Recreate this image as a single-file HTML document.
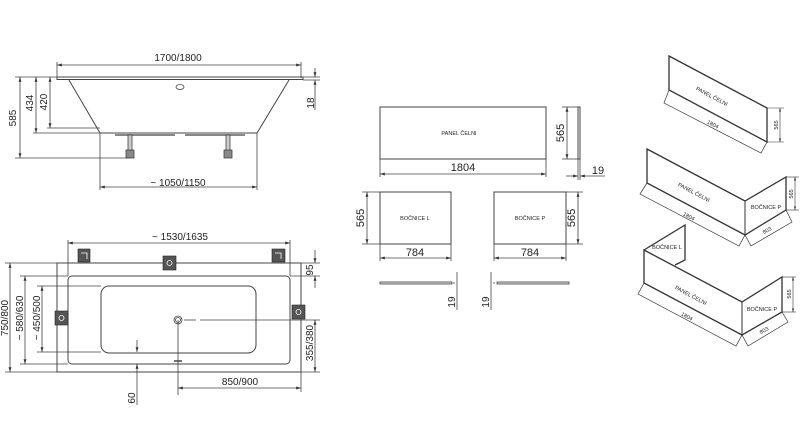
<!DOCTYPE html>
<html><head><meta charset="utf-8"><style>
html,body{margin:0;padding:0;background:#fff;}
svg{display:block;font-family:"Liberation Sans",sans-serif;}
</style></head><body>
<svg width="800" height="442" viewBox="0 0 800 442" xmlns="http://www.w3.org/2000/svg">
<defs>
<marker id="a" viewBox="0 0 10 10" refX="10" refY="5" markerWidth="6" markerHeight="6" orient="auto-start-reverse"><path d="M0,2 L10,5 L0,8 z" fill="#333"/></marker>
</defs>
<g stroke="#444" stroke-width="0.8" fill="none">
<!-- side view -->
<line x1="57" y1="65" x2="301" y2="65" marker-start="url(#a)" marker-end="url(#a)"/>
<line x1="57" y1="62" x2="57" y2="78"/><line x1="301" y1="62" x2="301" y2="78"/>
<rect x="57" y="77" width="246" height="2.5" stroke-width="1"/>
<path d="M69,80 L100,133 L257,133 L289,80" stroke-width="1"/>
<ellipse cx="180" cy="87" rx="4" ry="2.5"/>
<path d="M115,135 h60 M185,135 h60" stroke="#888" stroke-width="2"/>
<rect x="128" y="135" width="4" height="18" fill="#ccc"/><rect x="126" y="150" width="8" height="8" fill="#888"/>
<rect x="226" y="135" width="4" height="18" fill="#ccc"/><rect x="224" y="150" width="8" height="8" fill="#888"/>
<line x1="15" y1="77" x2="57" y2="77"/><line x1="33" y1="133" x2="100" y2="133"/><line x1="15" y1="158" x2="130" y2="158"/><line x1="47" y1="128" x2="100" y2="128"/>
<line x1="20" y1="77" x2="20" y2="158" marker-start="url(#a)" marker-end="url(#a)"/>
<line x1="36" y1="77" x2="36" y2="133" marker-start="url(#a)" marker-end="url(#a)"/>
<line x1="50" y1="77" x2="50" y2="128" marker-start="url(#a)" marker-end="url(#a)"/>
<line x1="303" y1="77" x2="320" y2="77"/><line x1="303" y1="80" x2="320" y2="80"/>
<line x1="315" y1="68" x2="315" y2="77" marker-end="url(#a)"/><line x1="315" y1="110" x2="315" y2="80" marker-end="url(#a)"/>
<line x1="100" y1="133" x2="100" y2="190"/><line x1="257" y1="133" x2="257" y2="190"/>
<line x1="100" y1="187" x2="257" y2="187" marker-start="url(#a)" marker-end="url(#a)"/>
<!-- plan view -->
<line x1="68" y1="243" x2="290" y2="243" marker-start="url(#a)" marker-end="url(#a)"/>
<line x1="68" y1="240" x2="68" y2="276"/><line x1="290" y1="240" x2="290" y2="276"/>
<rect x="57" y="263" width="244" height="109" stroke-width="1"/>
<rect x="68" y="276" width="222" height="88" rx="4" stroke-width="1"/>
<rect x="101" y="286" width="155" height="67" rx="8" stroke-width="1"/>
<circle cx="178" cy="320" r="4"/><circle cx="178" cy="320" r="2.5"/>
<line x1="184" y1="320" x2="196" y2="320"/><line x1="200" y1="320" x2="320" y2="320"/>
<line x1="178" y1="320" x2="178" y2="395"/>
<line x1="5" y1="263" x2="57" y2="263"/><line x1="5" y1="372" x2="57" y2="372"/>
<line x1="20" y1="276" x2="68" y2="276"/><line x1="20" y1="364" x2="68" y2="364"/>
<line x1="37" y1="286" x2="101" y2="286"/><line x1="37" y1="352" x2="101" y2="352"/>
<line x1="10" y1="263" x2="10" y2="372" marker-start="url(#a)" marker-end="url(#a)"/>
<line x1="25" y1="276" x2="25" y2="364" marker-start="url(#a)" marker-end="url(#a)"/>
<line x1="42" y1="286" x2="42" y2="352" marker-start="url(#a)" marker-end="url(#a)"/>
<line x1="301" y1="263" x2="320" y2="263"/><line x1="290" y1="276" x2="320" y2="276"/><line x1="301" y1="372" x2="320" y2="372"/>
<line x1="315" y1="250" x2="315" y2="263" marker-end="url(#a)"/><line x1="315" y1="288" x2="315" y2="276" marker-end="url(#a)"/>
<line x1="315" y1="320" x2="315" y2="372" marker-start="url(#a)" marker-end="url(#a)"/>
<line x1="178" y1="388" x2="301" y2="388" marker-start="url(#a)" marker-end="url(#a)"/>
<line x1="301" y1="372" x2="301" y2="392"/>
<line x1="137" y1="340" x2="137" y2="352" marker-end="url(#a)"/><line x1="137" y1="405" x2="137" y2="364" marker-end="url(#a)"/>
<line x1="174" y1="361" x2="182" y2="361" stroke-width="1.5"/>
</g>
<g fill="#555" stroke="#222" stroke-width="0.6">
<rect x="78" y="249" width="12" height="13"/><rect x="163" y="256" width="13" height="14"/><rect x="272" y="249" width="13" height="13"/>
<rect x="55" y="311" width="13" height="14"/><rect x="292" y="305" width="13" height="14"/>
</g>
<g stroke="#fff" stroke-width="0.8" fill="none">
<circle cx="169.5" cy="263" r="2.5"/><circle cx="61.5" cy="318" r="2.5"/><circle cx="298.5" cy="312" r="2.5"/>
<path d="M81,253 h6 v6 M275,253 h6 v6"/>
</g>
<!-- panels flat -->
<g stroke="#444" stroke-width="0.8" fill="none">
<rect x="380" y="107" width="166" height="52" stroke-width="1"/>
<line x1="380" y1="159" x2="380" y2="177"/><line x1="546" y1="159" x2="546" y2="177"/>
<line x1="380" y1="174" x2="546" y2="174" marker-start="url(#a)" marker-end="url(#a)"/>
<rect x="578" y="107" width="2" height="52" stroke-width="1"/>
<line x1="562" y1="107" x2="578" y2="107"/><line x1="562" y1="159" x2="578" y2="159"/>
<line x1="567" y1="107" x2="567" y2="159" marker-start="url(#a)" marker-end="url(#a)"/>
<line x1="578" y1="159" x2="578" y2="180"/><line x1="580" y1="159" x2="580" y2="180"/>
<line x1="566" y1="176" x2="578" y2="176" marker-end="url(#a)"/><line x1="605" y1="176" x2="580" y2="176" marker-end="url(#a)"/>
<rect x="380" y="192" width="71" height="52" stroke-width="1"/>
<line x1="362" y1="192" x2="380" y2="192"/><line x1="362" y1="244" x2="380" y2="244"/>
<line x1="367" y1="192" x2="367" y2="244" marker-start="url(#a)" marker-end="url(#a)"/>
<line x1="380" y1="244" x2="380" y2="261"/><line x1="451" y1="244" x2="451" y2="261"/>
<line x1="380" y1="258" x2="451" y2="258" marker-start="url(#a)" marker-end="url(#a)"/>
<rect x="494" y="192" width="72" height="52" stroke-width="1"/>
<line x1="566" y1="192" x2="583" y2="192"/><line x1="566" y1="244" x2="583" y2="244"/>
<line x1="578" y1="192" x2="578" y2="244" marker-start="url(#a)" marker-end="url(#a)"/>
<line x1="494" y1="244" x2="494" y2="261"/><line x1="566" y1="244" x2="566" y2="261"/>
<line x1="494" y1="258" x2="566" y2="258" marker-start="url(#a)" marker-end="url(#a)"/>
<rect x="380" y="282" width="72" height="2" fill="#ddd"/>
<rect x="497" y="282" width="72" height="2" fill="#ddd"/>
<line x1="457" y1="272" x2="457" y2="310"/><line x1="454" y1="282" x2="454" y2="284"/>
<line x1="491" y1="272" x2="491" y2="310"/><line x1="494" y1="282" x2="494" y2="284"/>
</g>
<!-- isometric -->
<g stroke="#333" stroke-width="1" fill="none">
<path d="M669,56 L767,108 L767,142 L669,90 Z" stroke-width="1.3"/>
<path d="M669,90 L664,103 L761,153 L767,142" stroke-width="0.7"/>
<line x1="767" y1="108" x2="784" y2="108" stroke-width="0.6"/><line x1="767" y1="142" x2="784" y2="142" stroke-width="0.6"/>
<line x1="780" y1="108" x2="780" y2="142" stroke-width="0.6" marker-start="url(#a)" marker-end="url(#a)"/>
<path d="M647,149 L745,201 L786,177 L786,210 L745,235 L647,183 Z" stroke-width="1.3"/>
<line x1="745" y1="201" x2="745" y2="235"/>
<path d="M647,183 L640,194 L739,246 L745,235 L751,246 L792,222 L786,210" stroke-width="0.7"/>
<line x1="786" y1="177" x2="799" y2="177" stroke-width="0.6"/><line x1="786" y1="210" x2="799" y2="210" stroke-width="0.6"/>
<line x1="795" y1="177" x2="795" y2="210" stroke-width="0.6" marker-start="url(#a)" marker-end="url(#a)"/>
<path d="M644,250 L685,225 L685,260 L675,265" stroke-width="1.3"/>
<path d="M644,250 L742,302 L782,277 L782,312 L742,335 L644,283 Z" stroke-width="1.3"/>
<line x1="742" y1="302" x2="742" y2="335"/>
<path d="M644,283 L638,294 L736,346 L742,335 L748,346 L788,322 L782,312" stroke-width="0.7"/>
<line x1="782" y1="277" x2="796" y2="277" stroke-width="0.6"/><line x1="782" y1="312" x2="796" y2="312" stroke-width="0.6"/>
<line x1="793" y1="277" x2="793" y2="312" stroke-width="0.6" marker-start="url(#a)" marker-end="url(#a)"/>
</g>
<g fill="#222" font-size="10">
<text x="178" y="61" text-anchor="middle">1700/1800</text>
<text x="178" y="186" text-anchor="middle">~ 1050/1150</text>
<text transform="translate(16,118) rotate(-90)" text-anchor="middle">585</text>
<text transform="translate(33,103) rotate(-90)" text-anchor="middle">434</text>
<text transform="translate(47,102) rotate(-90)" text-anchor="middle">420</text>
<text transform="translate(314,103) rotate(-90)" text-anchor="middle">18</text>
<text x="180" y="240" text-anchor="middle">~ 1530/1635</text>
<text transform="translate(8,318) rotate(-90)" text-anchor="middle">750/800</text>
<text transform="translate(23,318) rotate(-90)" text-anchor="middle">~ 580/630</text>
<text transform="translate(40,318) rotate(-90)" text-anchor="middle">~ 450/500</text>
<text transform="translate(313,270) rotate(-90)" text-anchor="middle">95</text>
<text transform="translate(313,343) rotate(-90)" text-anchor="middle">355/380</text>
<text x="240" y="385" text-anchor="middle">850/900</text>
<text transform="translate(135,398) rotate(-90)" text-anchor="middle">60</text>
<text x="463" y="171" text-anchor="middle" font-size="11">1804</text>
<text transform="translate(564,133) rotate(-90)" text-anchor="middle" font-size="11">565</text>
<text x="598" y="174" text-anchor="middle" font-size="11">19</text>
<text transform="translate(364,218) rotate(-90)" text-anchor="middle" font-size="11">565</text>
<text transform="translate(575,218) rotate(-90)" text-anchor="middle" font-size="11">565</text>
<text x="415" y="256" text-anchor="middle" font-size="11">784</text>
<text x="530" y="256" text-anchor="middle" font-size="11">784</text>
<text transform="translate(455,302) rotate(-90)" text-anchor="middle" font-size="10">19</text>
<text transform="translate(489,302) rotate(-90)" text-anchor="middle" font-size="10">19</text>
</g>
<g fill="#222" font-size="5.5">
<text x="459" y="135" text-anchor="middle">PANEL ČELNI</text>
<text x="415" y="220" text-anchor="middle">BOČNICE L</text>
<text x="530" y="220" text-anchor="middle">BOČNICE P</text>
<text transform="translate(711,98) rotate(28)" text-anchor="middle">PANEL ČELNI</text>
<text transform="translate(712,126) rotate(28)" text-anchor="middle">1804</text>
<text transform="translate(778,125) rotate(-90)" text-anchor="middle">565</text>
<text transform="translate(693,194) rotate(28)" text-anchor="middle">PANEL ČELNI</text>
<text transform="translate(688,218) rotate(28)" text-anchor="middle">1804</text>
<text x="766" y="209" text-anchor="middle">BOČNICE P</text>
<text transform="translate(768,232) rotate(-30)" text-anchor="middle">803</text>
<text transform="translate(793,194) rotate(-90)" text-anchor="middle">565</text>
<text x="667" y="249" text-anchor="middle">BOČNICE L</text>
<text transform="translate(690,297) rotate(28)" text-anchor="middle">PANEL ČELNI</text>
<text transform="translate(686,318) rotate(28)" text-anchor="middle">1804</text>
<text x="762" y="311" text-anchor="middle">BOČNICE P</text>
<text transform="translate(765,332) rotate(-30)" text-anchor="middle">803</text>
<text transform="translate(791,294) rotate(-90)" text-anchor="middle">565</text>
</g>
</svg>
</body></html>
